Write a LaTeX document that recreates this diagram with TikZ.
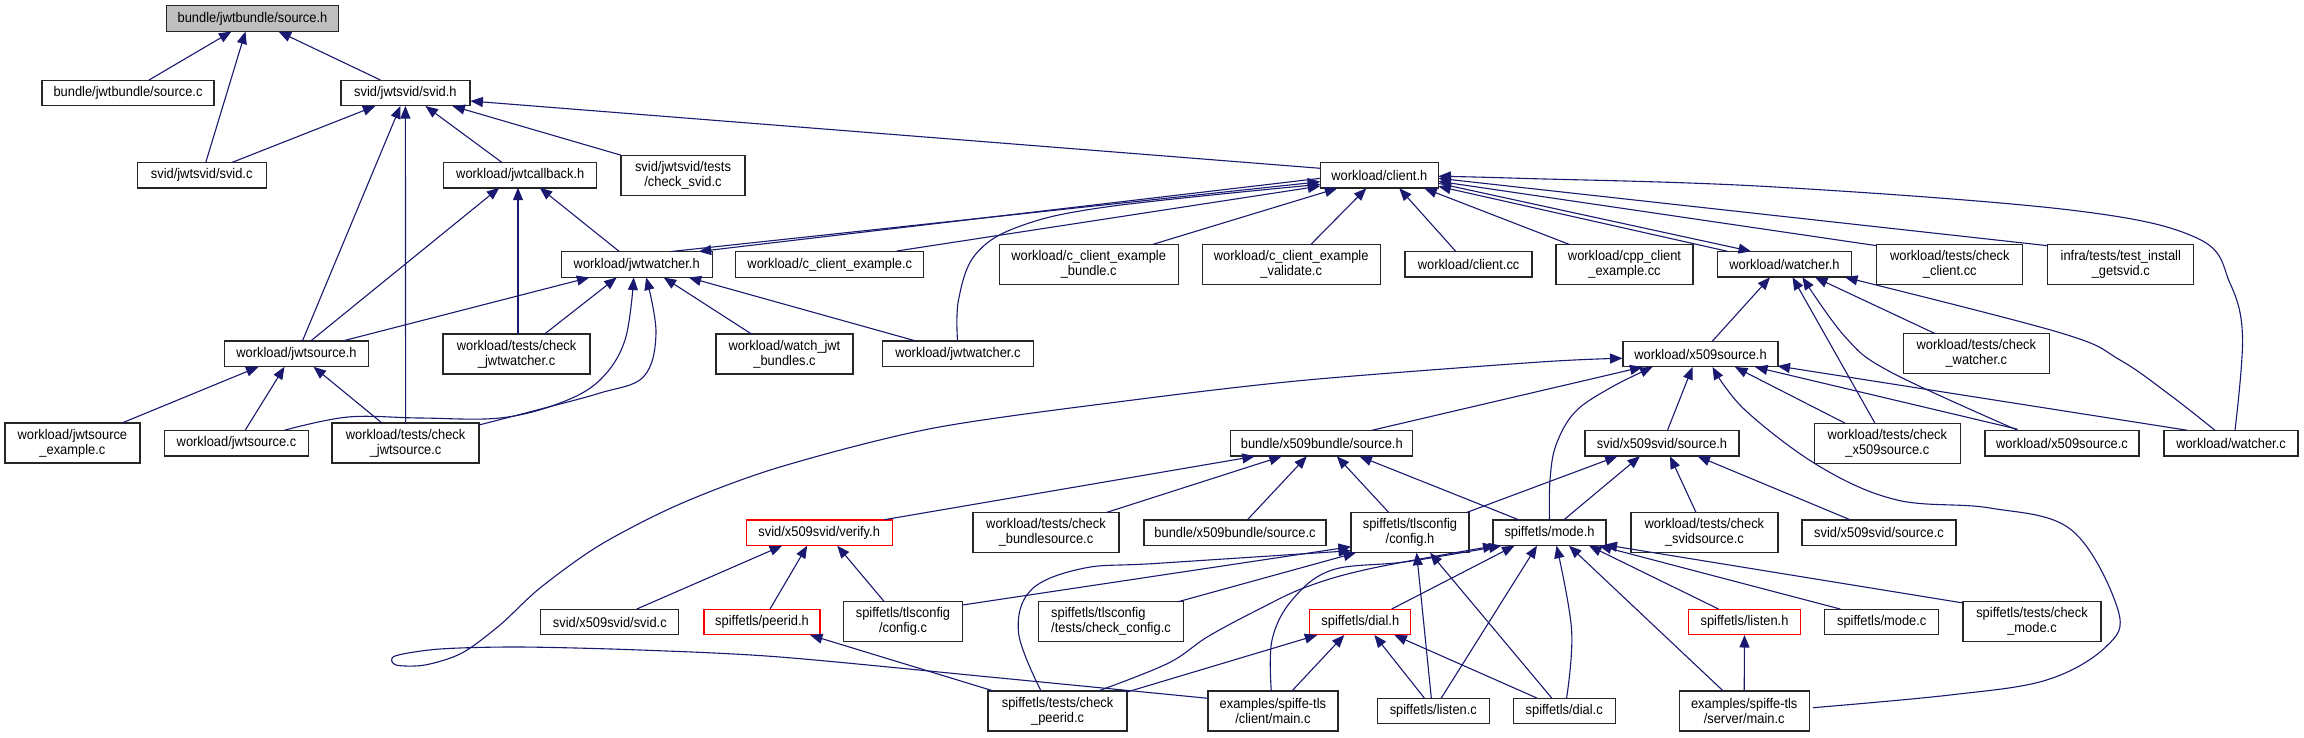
\documentclass[tikz,border=0pt]{standalone}
\usepackage{fontspec}
\setmainfont[FakeStretch=0.92]{Liberation Sans}
\usetikzlibrary{arrows.meta}
\definecolor{edgeblue}{HTML}{191970}
\definecolor{rootgray}{HTML}{BFBFBF}
\begin{document}
\begin{tikzpicture}[x=1pt,y=-1pt,
  nd/.style={draw=black!85, line width=1.3pt, fill=white, inner sep=0pt, align=center,
    font=\fontsize{14}{15}\selectfont, minimum height=25.5pt},
  two/.style={minimum height=40pt},
  wd/.style={minimum width=#1pt},
  rednd/.style={nd, draw=red},
  rootnd/.style={nd, fill=rootgray},
  dep/.style={draw=edgeblue, line width=1.1pt, -{Triangle[length=12.5pt,width=10pt]}}]
\fill[white] (0,0) rectangle (2304,737);
\useasboundingbox (0,0) rectangle (2304,737);

% row 1
\node[rootnd, wd=172] (N1) at (252.5,18.5) {bundle/jwtbundle/source.h};
% row 2
\node[nd, wd=172] (N2) at (128,93) {bundle/jwtbundle/source.c};
\node[nd, wd=129] (N3) at (405.4,93) {svid/jwtsvid/svid.h};
% row 3
\node[nd, wd=129] (N4) at (201.7,175.2) {svid/jwtsvid/svid.c};
\node[nd, wd=153] (N5) at (520.3,175.2) {workload/jwtcallback.h};
\node[nd, two, wd=124] (N6) at (683,175.2) {svid/jwtsvid/tests\\/check\_svid.c};
\node[nd, wd=118] (N17) at (1379.3,175.3) {workload/client.h};
% row 4
\node[nd, wd=151] (N7) at (636.7,264.5) {workload/jwtwatcher.h};
\node[nd, wd=188] (N13) at (829.8,264.5) {workload/c\_client\_example.c};
\node[nd, two, wd=179] (N16) at (1088.7,264.3) {workload/c\_client\_example\\\_bundle.c};
\node[nd, two, wd=178] (N18) at (1291.2,264.3) {workload/c\_client\_example\\\_validate.c};
\node[nd, wd=127] (N19) at (1468.6,264.2) {workload/client.cc};
\node[nd, two, wd=137] (N20) at (1624.5,264.7) {workload/cpp\_client\\\_example.cc};
\node[nd, wd=134] (N21) at (1784.5,264.3) {workload/watcher.h};
\node[nd, two, wd=146] (N22) at (1949.8,264.7) {workload/tests/check\\\_client.cc};
\node[nd, two, wd=146] (N23) at (2120.8,264.7) {infra/tests/test\_install\\\_getsvid.c};
% row 5
\node[nd, wd=144] (N8) at (296.5,353.8) {workload/jwtsource.h};
\node[nd, two, wd=147] (N9) at (516.6,354) {workload/tests/check\\\_jwtwatcher.c};
\node[nd, two, wd=137] (N14) at (784.5,354) {workload/watch\_jwt\\\_bundles.c};
\node[nd, wd=151] (N15) at (957.9,353.7) {workload/jwtwatcher.c};
\node[nd, wd=155] (N24) at (1700.5,354) {workload/x509source.h};
\node[nd, two, wd=146] (N25) at (1976.3,353.7) {workload/tests/check\\\_watcher.c};
% row 6
\node[nd, two, wd=135] (N10) at (72.4,443) {workload/jwtsource\\\_example.c};
\node[nd, wd=144] (N11) at (236.5,443.2) {workload/jwtsource.c};
\node[nd, two, wd=147] (N12) at (405.6,443) {workload/tests/check\\\_jwtsource.c};
\node[nd, wd=182] (N30) at (1321.8,443.3) {bundle/x509bundle/source.h};
\node[nd, wd=154] (N26) at (1662,443.2) {svid/x509svid/source.h};
\node[nd, two, wd=146] (N27) at (1887.3,443.3) {workload/tests/check\\\_x509source.c};
\node[nd, wd=154] (N28) at (2062,443.2) {workload/x509source.c};
\node[nd, wd=134] (N29) at (2231,443.3) {workload/watcher.c};
% row 7
\node[rednd, wd=146] (N31) at (819.2,532.7) {svid/x509svid/verify.h};
\node[nd, two, wd=146] (N32) at (1046,532.7) {workload/tests/check\\\_bundlesource.c};
\node[nd, wd=182] (N33) at (1235,532.7) {bundle/x509bundle/source.c};
\node[nd, two, wd=118] (N34) at (1410,532.7) {spiffetls/tlsconfig\\/config.h};
\node[nd, wd=113] (N35) at (1549.5,532.7) {spiffetls/mode.h};
\node[nd, two, wd=147] (N36) at (1704.4,532.5) {workload/tests/check\\\_svidsource.c};
\node[nd, wd=154] (N37) at (1879,532.7) {svid/x509svid/source.c};
% row 8
\node[nd, wd=138] (N38) at (609.8,622) {svid/x509svid/svid.c};
\node[rednd, wd=116] (N39) at (762,622) {spiffetls/peerid.h};
\node[nd, two, wd=119] (N40) at (903,621.8) {spiffetls/tlsconfig\\/config.c};
\node[nd, two, wd=145, align=left] (N41) at (1111,621.8) {spiffetls/tlsconfig\\/tests/check\_config.c};
\node[rednd, wd=101] (N42) at (1360.3,622) {spiffetls/dial.h};
\node[rednd, wd=112] (N43) at (1744.5,622) {spiffetls/listen.h};
\node[nd, wd=114] (N44) at (1881.7,622) {spiffetls/mode.c};
\node[nd, two, wd=138] (N45) at (2032,621.8) {spiffetls/tests/check\\\_mode.c};
% row 9
\node[nd, two, wd=139] (N46) at (1057.6,711) {spiffetls/tests/check\\\_peerid.c};
\node[nd, two, wd=130] (N47) at (1272.9,711) {examples/spiffe-tls\\/client/main.c};
\node[nd, wd=112] (N48) at (1433.3,711) {spiffetls/listen.c};
\node[nd, wd=102] (N49) at (1564.2,711) {spiffetls/dial.c};
\node[nd, two, wd=130] (N50) at (1744.2,711) {examples/spiffe-tls\\/server/main.c};

% straight connectors: child/dx/dy/parent/dx/dy
\foreach \c/\cx/\cy/\p/\px/\py in {
 N2/21/-13/N1/-21/13, N4/4/-12.5/N1/-7/13, N3/-25/-13/N1/26/13,
 N4/29.6/-12.5/N3/-30/13, N8/6/-13/N3/-5/13, N12/0/-20/N3/0/13,
 N5/-18/-12.5/N3/20/13, N6/-62/-20/N3/47/13, N17/-59/-7/N3/65/8,
 N8/14.4/-13/N5/-21/12.5, N9/1.4/-20/N5/-2.3/12.5, N7/-17.4/-13/N5/19.4/12.5,
 N10/49.5/-20/N8/-38/13, N11/8.7/-13/N8/-12/13, N12/-23.6/-20/N8/17/13,
 N8/46.7/-13/N7/-47.3/13, N9/28/-20/N7/-20/13, N14/-33/-20/N7/27/13,
 N15/-43/-13/N7/52/13, N7/34.4/-13/N17/-59/6.4, N17/-59/3/N7/62/-13,
 N13/67/-13.5/N17/-59/10.7, N16/64.3/-20/N17/-42/13, N18/19.8/-20/N17/-13/13,
 N19/-13/-13/N17/20/13, N20/-54.5/-20/N17/45/13, N21/-57/-13/N17/59/11,
 N17/59/8/N21/-33.5/-13, N22/-73/-19/N17/59/6, N23/-73/-19/N17/59/3,
 N24/12/-13/N21/-14.5/13, N27/-12.3/-20/N21/8/13, N25/-41/-20/N21/30.5/13,
 N27/-42/-20/N24/34.5/13, N28/-44.5/-14/N24/54.5/13, N29/-43.5/-13/N24/77/12,
 N26/5.5/-13/N24/-8/13, N30/50/-13/N24/-58/13,
 N34/56/-20/N26/-44.5/13, N35/14.5/-13/N26/-22/13, N36/-8.4/-20/N26/8/13,
 N37/-29/-13/N26/35.5/13,
 N31/65/-13/N30/-67/13, N32/59.7/-20/N30/-40/13, N33/12.5/-13/N30/-15/13,
 N34/-21/-20/N30/15/13, N35/-31/-13/N30/37.6/13,
 N38/27/-13/N31/-37/13, N39/8/-13/N31/-12/13, N40/-18.6/-20/N31/18/13,
 N46/-64/-20/N39/48/13,
 N40/59.4/-16.8/N34/-59/14, N41/66.8/-20/N34/-54/20, N48/-2/-13/N34/6.6/20,
 N49/-12.5/-13/N34/20/20,
 N42/31.4/-13/N35/-35/13, N48/8/-13/N35/-12.5/13, N50/-21/-20/N35/19.5/13,
 N43/-26/-13/N35/39.5/13, N44/-41.5/-13/N35/49.5/13, N45/-70/-19/N35/55/12,
 N46/69.4/-19/N42/-43/13, N47/19/-20/N42/-16/13, N48/-9/-13/N42/14/13,
 N49/-27.4/-13/N42/34/13, N50/0/-20/N43/0/13}
  \draw[dep] ([shift={(\cx,\cy)}]\c.center) -- ([shift={(\px,\py)}]\p.center);

% curved connectors
\coordinate (a18) at ([shift={(48,-13)}]N11.center);
\coordinate (b18) at ([shift={(-3,13)}]N7.center);
\draw[dep] plot[smooth, tension=0.6] coordinates {(a18) (348,417) (420,418) (500,418) (560,403) (600,380) (625,340) (b18)};

\coordinate (a19) at ([shift={(73.4,-18)}]N12.center);
\coordinate (b19) at ([shift={(9.5,13)}]N7.center);
\draw[dep] plot[smooth, tension=0.6] coordinates {(a19) (537,410) (600,393) (643.6,376.7) (656,333) (b19)};

\coordinate (a24) at ([shift={(-0.4,-13)}]N15.center);
\coordinate (b24) at ([shift={(-59,9)}]N17.center);
\draw[dep] plot[smooth, tension=0.6] coordinates {(a24) (958.5,300) (975,255) (1018.6,226.7) (1108,206.7) (b24)};

\coordinate (a33) at ([shift={(4,-13)}]N29.center);
\coordinate (b33) at ([shift={(59,1)}]N17.center);
\draw[dep] plot[smooth, tension=0.6] coordinates {(a33) (2242.5,336.7) (2230,283.3) (2197.5,238.3) (2070,210) (1770,186.7) (1520,178.3) (b33)};

\coordinate (a36) at ([shift={(-44.5,-13)}]N28.center);
\coordinate (b36) at ([shift={(18,13)}]N21.center);
\draw[dep] plot[smooth, tension=0.6] coordinates {(a36) (1890,371.7) (1845,336.7) (b36)};

\coordinate (a38) at ([shift={(-16,-13)}]N29.center);
\coordinate (b38) at ([shift={(60.5,13)}]N21.center);
\draw[dep] plot[smooth, tension=0.6] coordinates {(a38) (2170,395) (2120,360) (2060,332.7) (b38)};

\coordinate (a44) at ([shift={(0,-13)}]N35.center);
\coordinate (b44) at ([shift={(-48,13)}]N24.center);
\draw[dep] plot[smooth, tension=0.6] coordinates {(a44) (1550,480) (1556,445) (1575,412) (1610,388) (b44)};

\coordinate (a45) at ([shift={(68.6,-3.3)}]N50.center);
\coordinate (b45) at ([shift={(12,13)}]N24.center);
\draw[dep] plot[smooth, tension=0.6] coordinates {(a45) (1950,695) (2046.6,680) (2106,646.7) (2118,610) (2071.5,530) (1990,508) (1897,500) (1820,466.7) (1745,410) (b45)};

\coordinate (a61) at ([shift={(-16.6,-20)}]N46.center);
\coordinate (b61) at ([shift={(-59,18)}]N34.center);
\draw[dep] plot[smooth, tension=0.6] coordinates {(a61) (1018.6,633.3) (1031,590) (1083.3,568.3) (1158,563.3) (b61)};

\coordinate (a64) at ([shift={(40.6,-20)}]N46.center);
\coordinate (b64) at ([shift={(-54,13)}]N35.center);
\draw[dep] plot[smooth, tension=0.6] coordinates {(a64) (1168,663.3) (1207.7,636.7) (1257.4,610) (1307,586.7) (1371.8,568.3) (b64)};

\coordinate (a65) at ([shift={(-1.6,-20)}]N47.center);
\coordinate (b65) at ([shift={(-48,13)}]N35.center);
\draw[dep] plot[smooth, tension=0.6] coordinates {(a65) (1272,640) (1292,600) (1332,570) (1406.6,561.7) (b65)};

\coordinate (a68) at ([shift={(2.4,-13)}]N49.center);
\coordinate (b68) at ([shift={(7,13)}]N35.center);
\draw[dep] plot[smooth, tension=0.6] coordinates {(a68) (1571.6,630) (b68)};

\coordinate (a78) at ([shift={(-65,-12.7)}]N47.center);
\coordinate (b78) at ([shift={(-78,4.3)}]N24.center);
\draw[dep] plot[smooth, tension=0.5] coordinates {(a78) (1000,678) (780,657) (640,650) (520,647) (440,649) (395,656) (396,665) (425,665) (462,653) (500,625) (540,588) (600,545) (680,504) (780,467) (934,428) (1133,400) (1307,380) (1540,362) (b78)};
\end{tikzpicture}
\end{document}
